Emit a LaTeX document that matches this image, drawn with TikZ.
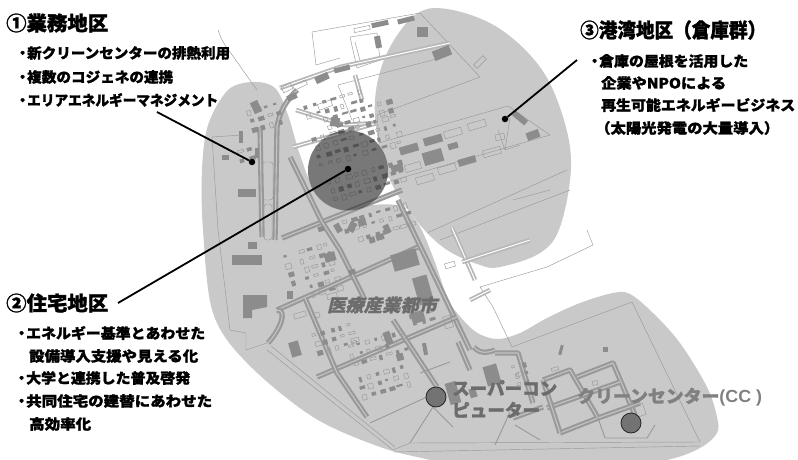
\documentclass[tikz,border=0pt]{standalone}
\usepackage{fontspec}
\usepackage{graphicx}
\setmainfont{Noto Sans CJK JP}[BoldFeatures={FakeBold=1.4}]
\newfontfamily\jpslant{Noto Sans CJK JP}[FakeSlant=0.22,BoldFeatures={FakeSlant=0.22,FakeBold=1}]
\newfontfamily\latinb{Liberation Sans}
\definecolor{zonegray}{HTML}{C9C9C9}
\definecolor{mapline}{HTML}{999999}
\definecolor{mapfill}{HTML}{8C8C8C}
\definecolor{maplabel}{HTML}{6C6C6C}
\newcommand\fitw[2]{\resizebox{#1pt}{\height}{#2}}
\newcommand\bul{\makebox[0pt][r]{・\hspace{-2.5pt}}}
\tikzset{
  zone/.style={fill=zonegray,draw=none},
  thinmap/.style={draw=mapline,line width=.45pt},
  roadg/.style={draw=mapline,line width=2.1pt,double=zonegray!90!mapline,double distance=1.1pt,line join=round},
  roadw/.style={draw=mapline!70,line width=1.8pt,double=white,double distance=1pt,line join=round},
  leader/.style={draw=black,line width=1.8pt},
  leaddot/.style={circle,fill=black,inner sep=0pt,minimum size=6.5pt},
  site/.style={circle,fill=black!55,draw=black!85,line width=.8pt,inner sep=0pt,minimum size=20pt},
  head/.style={anchor=west,font=\fontsize{20}{20}\selectfont\bfseries,inner sep=0pt},
  body/.style={anchor=west,font=\fontsize{14.2}{14.2}\selectfont\bfseries,inner sep=0pt},
  maplab/.style={font=\fontsize{17.5}{17.5}\selectfont\bfseries,text=maplabel,inner sep=0pt,anchor=west}
}
\begin{document}
\begin{tikzpicture}[x=1pt,y=-1pt]
\useasboundingbox (0,0) rectangle (798,460);
\pgfmathsetseed{4242}
% gray zones
\fill[zone] plot[smooth cycle,tension=.55] coordinates {(253,82)(275,88)(288,115)(300,155)(315,188)(350,205)(395,205)(417,222)(433,257)(447,297)(457,313)(476,332)(497,339)(520,333)(547,318)(580,303)(613,293)(630,294)(653,313)(680,343)(707,387)(717,417)(717,433)(700,448)(667,460)(600,470)(480,472)(430,460)(380,447)(313,417)(247,363)(213,313)(203,230)(202,170)(208,125)(228,90)};
\fill[zone] plot[smooth cycle,tension=.6] coordinates {(420,225)(447,250)(480,265)(500,267)(540,253)(560,227)(571,167)(563,117)(540,67)(497,27)(447,9)(415,15)(387,53)(375,100)(380,150)(395,190)};
\fill[zone] (348,170.5) circle (40);
% thin outlines of the map
\draw[thinmap] (218,30)--(221,38)--(225,45)--(257,90);
\draw[thinmap] (312,32)--(420,13)--(480,77)--(377,115)--(379,143)--(508,106)--(550,135)--(387,182);
\draw[thinmap] (312,32)--(316,65)--(340,58);
\draw[thinmap] (350,37)--(357,68)--(380,60)--(377,33)--cycle;
\draw[thinmap] (355,42)--(361,64);
\draw[thinmap] (338,85)--(440,58);
\draw[thinmap] (338,85)--(352,120);
\draw[thinmap] (212,137)--(218,230)--(230,330)--(246,333)--(246,350)--(267,343);
\draw[thinmap] (212,137)--(242,135);
\draw[thinmap] (267,350)--(393,450)--(410,443)--(700,442)--(632,302)--(512,347)--(493,307)--(480,287)--(547,267)--(593,245)--(587,230);
\draw[thinmap] (393,452)--(700,446);
\draw[thinmap] (271,346)--(395,447);
\draw[thinmap] (567,170)--(427,233);
\draw[thinmap] (570,190)--(440,240);
\draw[thinmap] (513,200)--(550,190);
\draw[thinmap] (510,118)--(505,150);
\draw[thinmap] (498,130)--(505,150)--(520,145);
% white-side roads
\draw[roadw] (280,88)--(340,67)--(450,43);
\draw[roadw] (296,110)--(345,125)--(377,123);
\draw[roadw] (293,147)--(377,123);
\draw[roadw] (452,228)--(475,280);
\draw[roadw] (462,262)--(530,240);
\draw[roadw] (470,300)--(490,290);
\draw[roadw] (355,75)--(362,100);
% gray-side roads
\draw[roadg] (260,127)--(262,237);
\draw[roadg] (277,127)--(275,240);
\draw[roadg] (277,127) .. controls (280,110) and (287,100) .. (297,90);
\draw[thinmap,rounded corners=3pt] (262,162) rectangle (273,200);
\draw[thinmap,rounded corners=3pt] (264,204) rectangle (272,240);
\draw[roadg] (277,310)--(418,247);
\draw[roadg] (282,238)--(402,190);
\draw[roadg] (398,200)--(470,350);
\draw[roadg] (290,157)--(322,222)--(340,250)--(365,300);
\draw[roadg] (317,377)--(457,317);
\draw[roadg] (305,298)--(337,373)--(367,417);
\draw[roadg] (393,320)--(437,387);
\draw[thinmap,line width=.9pt] (420,373)--(450,362);
\draw[thinmap,line width=.9pt] (370,423)--(427,397);
\draw[thinmap,line width=.9pt] (410,443)--(433,407)--(453,427);
\draw[roadg] (268,343) .. controls (280,330) and (288,310) .. (277,310);
\draw[roadg] (458,342)--(470,370);
\draw[roadg] (474,347) .. controls (480,355) and (490,352) .. (495,350);
\draw[roadg] (495,353)--(518,353)--(533,403);
\draw[roadg] (543,380)--(570,370)--(598,418)--(560,433);
\draw[roadg] (577,377)--(613,363)--(635,415);
\draw[roadg] (598,418)--(640,403);
\draw[roadg] (547,408)--(620,382);
\draw[roadg] (543,407)--(513,418);
\draw[roadg] (543,380)--(560,433);
\draw[thinmap,line width=.9pt] (605,438)--(647,438)--(655,425);
\draw[thinmap,line width=.9pt] (598,418)--(605,438);
\draw[thinmap,line width=.9pt] (495,445)--(510,412);
\draw[thinmap,line width=.9pt] (515,425)--(540,440);
% town texture: rotated grids of small plots (origin x/y, columns, rows)
\foreach \ox/\oy/\nc/\nr in {
  292/100/7/2, 312/112/8/2, 300/132/10/4, 315/175/9/3,
  286/245/4/6, 330/215/8/2, 345/232/7/1, 270/250/1/4,
  300/328/5/3, 335/340/7/3, 345/372/6/3, 395/300/3/3,
  225/145/2/2, 235/105/4/3, 500/360/2/3
}{
  \foreach \ci in {1,...,\nc}{
    \foreach \cj in {1,...,\nr}{
      \pgfmathsetmacro\rw{2.5+rnd*4}
      \pgfmathsetmacro\rh{2+rnd*3.5}
      \pgfmathsetmacro\rr{rnd}
      \pgfmathsetmacro\dx{rnd*2.5}
      \ifdim\rr pt<.5pt
        \fill[mapfill,shift={(\ox,\oy)},rotate=16] (\ci*9+\dx,\cj*9) rectangle ++(\rw,\rh);
      \else
        \draw[thinmap,shift={(\ox,\oy)},rotate=16] (\ci*9+\dx,\cj*9) rectangle ++(\rw,\rh);
      \fi
    }
  }
}
% filled buildings: x/y/w/h/angle
\foreach \bx/\by/\bw/\bh/\ba in {
  380/24/17/5/12,406/20/17/5/14,422/32/11/10/0,378/42/6/12/10,442/53/18/10/22,342/69/16/5/14,
  322/78/14/7/25,292/97/10/6/25,256/107/8/12/25,241/137/4/12/0,257/153/4/10/0,225/157/7/5/0,
  247/193/18/8/0,335/122/9/9/-10,409/149/19/8/16,433/140/19/8/16,453/146/10/6/16,433/157/20/13/16,
  467/161/18/7/16,397/168/12/7/16,520/118/16/6/-40,533/135/13/8/20,405/260/26/17/16,423/290/15/28/16,
  330/257/11/9/16,418/317/13/11/16,295/349/10/15/16,247/260/30/10/0,252/245/9/7/0,290/295/6/8/0,
  492/375/14/20/16,453/393/11/22/16,473/393/7/9/16,380/237/8/6/16,352/272/7/5/16,
  321/229/6/5/16,338/228/6/9/30,352/227/7/10/-25,362/222/8/8/16,372/240/6/6/16,387/229/6/9/25,
  400/357/7/7/16,388/338/7/13/20,425/349/4/12/10,561/350/3/10/-15,605/349/5/5/0
}{
  \fill[mapfill,shift={(\bx,\by)},rotate=\ba] (-\bw/2,-\bh/2) rectangle (\bw/2,\bh/2);
}
% L-shaped block
\fill[mapfill] (243,295)--(267,295)--(267,307)--(252,310)--(252,318)--(243,318)--cycle;
% hollow buildings
\foreach \bx/\by/\bw/\bh/\ba in {
  362/29/16/4/12,480/62/13/5/45,453/133/18/7/16,477/125/18/7/16,447/169/18/7/16,492/152/18/7/16,
  425/179/18/7/16,413/167/16/7/16,300/85/14/5/25,325/105/14/6/20,287/88/10/6/25,
  500/137/9/6/10,300/315/12/5/16,317/315/5/5/16,332/296/10/5/16,450/265/10/5/16,
  448/322/8/12/16,355/340/8/4/16,595/383/5/4/16,555/369/7/3/16,640/410/9/12/20,520/374/7/4/16
}{
  \draw[thinmap,shift={(\bx,\by)},rotate=\ba] (-\bw/2,-\bh/2) rectangle (\bw/2,\bh/2);
}
% translucent circle over the map
\fill[black,opacity=.4] (348,170.5) circle (40);
% map labels
\node[maplab] (medical) at (327,305) {\fitw{110}{\jpslant 医療産業都市}};
\node[maplab] (super1) at (452,388) {\fitw{105}{スーパーコン}};
\node[maplab] (super2) at (452,410) {\fitw{88}{ピューター}};
\node[maplab,text=black!50] (cc) at (577,397) {\fitw{185}{クリーンセンター{\latinb (CC )}}};
% site markers
\node[site] (sitea) at (436,397) {};
\node[site] (siteb) at (631,423) {};
% leader lines
\node[leaddot] (d1) at (252,162) {};
\node[leaddot] (d2) at (348,169) {};
\node[leaddot] (d3) at (505,119) {};
\coordinate (e1) at (157,112);
\coordinate (e2) at (118,303);
\coordinate (e3) at (577,60);
\draw[leader] (e1)--(d1);
\draw[leader] (e2)--(d2);
\draw[leader] (e3)--(d3);
% texts
\node[head] (h1) at (6,23) {\fitw{102}{①業務地区}};
\node[body] (a1) at (27,53) {\bul\fitw{203}{新クリーンセンターの排熱利用}};
\node[body] (a2) at (27,77) {\bul\fitw{146}{複数のコジェネの連携}};
\node[body] (a3) at (27,100) {\bul\fitw{191}{エリアエネルギーマネジメント}};
\node[head] (h3) at (580,30) {\fitw{186}{③港湾地区（倉庫群）}};
\node[body] (c1) at (599,61) {\bul\fitw{149}{倉庫の屋根を活用した}};
\node[body] (c2) at (601,83) {\fitw{125}{企業やNPOによる}};
\node[body] (c3) at (601,105) {\fitw{194}{再生可能エネルギービジネス}};
\node[body] (c4) at (595,128) {\fitw{184}{（太陽光発電の大量導入）}};
\node[head] (h2) at (6,303) {\fitw{102}{②住宅地区}};
\node[body] (b1) at (26,333) {\bul\fitw{179}{エネルギー基準とあわせた}};
\node[body] (b2) at (29,356) {\fitw{169}{設備導入支援や見える化}};
\node[body] (b3) at (26,378) {\bul\fitw{164}{大学と連携した普及啓発}};
\node[body] (b4) at (26,401) {\bul\fitw{186}{共同住宅の建替にあわせた}};
\node[body] (b5) at (29,424) {\fitw{62}{高効率化}};
\end{tikzpicture}
\end{document}
